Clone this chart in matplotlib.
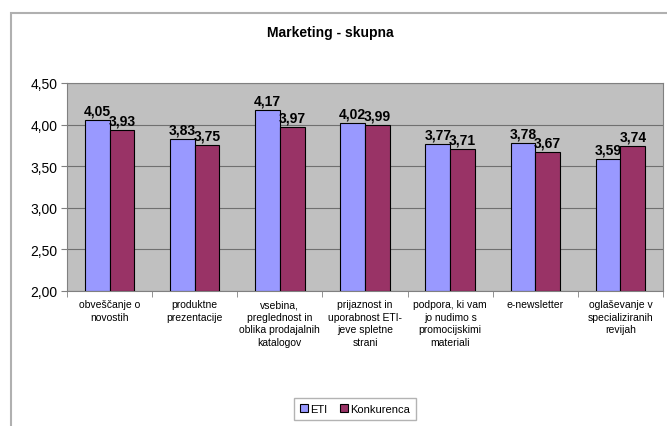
import numpy as np
import matplotlib
matplotlib.use("Agg")
import matplotlib.pyplot as plt
from matplotlib.patches import Rectangle

plt.rcParams['font.family'] = ['Liberation Sans', 'DejaVu Sans']

# data
categories = ['obveščanje o\nnovostih', 'produktne\nprezentacije',
              'vsebina,\npreglednost in\noblika prodajalnih\nkatalogov',
              'prijaznost in\nuporabnost ETI-\njeve spletne\nstrani',
              'podpora, ki vam\njo nudimo s\npromocijskimi\nmateriali',
              'e-newsletter', 'oglaševanje v\nspecializiranih\nrevijah']
eti = [4.05, 3.83, 4.17, 4.02, 3.77, 3.78, 3.59]
konkurenca = [3.93, 3.75, 3.97, 3.99, 3.71, 3.67, 3.74]
yticks = [2.0, 2.5, 3.0, 3.5, 4.0, 4.5]

fig = plt.figure(figsize=(6.67, 4.27), dpi=100)
fig.patch.set_facecolor('white')

# chart area frame (the Excel chart border, cut at the right/bottom)
fig.patches.append(Rectangle((11/667, -0.05), 1.0, 1 - 14/427 + 0.05,
                             transform=fig.transFigure, fill=False,
                             edgecolor='#b0b0b0', linewidth=1.5))

ax = fig.add_axes([67/667, 1 - 292/427, 596/667, 208/427])
ax.set_facecolor('#c0c0c0')

x = np.arange(len(categories))
w = 0.29
b1 = ax.bar(x - w/2, [v - 2 for v in eti], w, bottom=2, color='#9999ff',
            edgecolor='black', linewidth=0.8, label='ETI', zorder=3)
b2 = ax.bar(x + w/2, [v - 2 for v in konkurenca], w, bottom=2, color='#993366',
            edgecolor='black', linewidth=0.8, label='Konkurenca', zorder=3)

for bars, vals in ((b1, eti), (b2, konkurenca)):
    for r, v in zip(bars, vals):
        ax.text(r.get_x() + r.get_width()/2, v + 0.03, f'{v:.2f}'.replace('.', ','),
                ha='center', va='bottom', fontsize=10, fontweight='bold', zorder=4)

ax.set_ylim(2.0, 4.5)
ax.set_xlim(-0.5, len(categories) - 0.5)
ax.set_yticks(yticks)
ax.set_yticklabels([f'{t:.2f}'.replace('.', ',') for t in yticks], fontsize=10)
ax.yaxis.grid(True, color='#707070', linewidth=0.8, zorder=0)

ax.set_xticks(x)
ax.set_xticklabels(categories, fontsize=7.5, linespacing=1.3)
ax.tick_params(axis='x', length=0, pad=6)
ax.set_xticks(np.arange(len(categories) + 1) - 0.5, minor=True)
ax.tick_params(axis='x', which='minor', length=4, color='#808080')
ax.tick_params(axis='y', length=4, color='#808080', pad=3)
for s in ax.spines.values():
    s.set_color('#808080')
    s.set_linewidth(0.8)

fig.text(330/667, 1 - 33/427, 'Marketing - skupna', ha='center', va='center',
         fontsize=10, fontweight='bold')

fig.legend(handles=[b1, b2], loc='center', bbox_to_anchor=(355/667, 1 - 410/427),
           ncol=2, fontsize=8, frameon=True, fancybox=False, edgecolor='#a0a0a0',
           handlelength=0.7, handleheight=0.7, handletextpad=0.2, columnspacing=1.2,
           borderpad=0.5)

fig.savefig('out.png', dpi=100)
